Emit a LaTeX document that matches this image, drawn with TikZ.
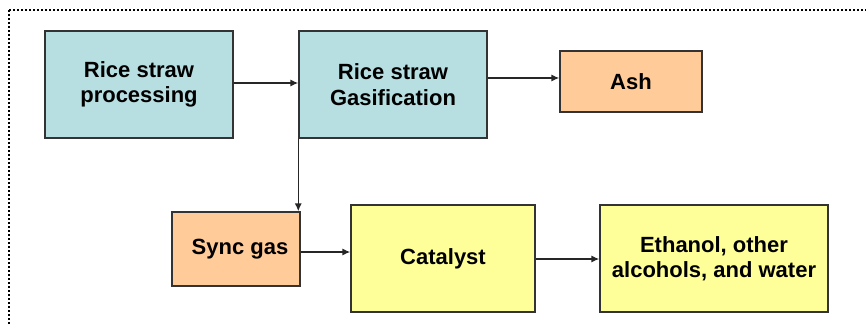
\documentclass[tikz,border=0pt]{standalone}
\usepackage{fontspec}
\setmainfont{Liberation Sans}
\usetikzlibrary{arrows.meta}
\definecolor{boxblue}{HTML}{B7DEE1}
\definecolor{boxorange}{HTML}{FFCC99}
\definecolor{boxyellow}{HTML}{FFFF99}
\begin{document}
\begin{tikzpicture}[x=0.75pt,y=-0.75pt,
           box_style/.style={rectangle,draw=black!80,line width=1.1pt,align=center,
              font=\fontsize{16.5}{19}\selectfont\bfseries,inner sep=0pt},
           box_blue/.style={box_style,fill=boxblue,minimum width=141pt,minimum height=80.25pt},
           box_orange/.style={box_style,fill=boxorange},
           box_yellow/.style={box_style,fill=boxyellow,minimum height=80.25pt},
           edge_style/.style={draw=black!85,line width=1.1pt,-{Latex[length=6pt,width=5.5pt]}}]
            \useasboundingbox (0,0) rectangle (866,324);
            \draw[line width=1.8pt,dash pattern=on 1.6pt off 1.4pt] (9,10) rectangle (880,340);
            \node[box_blue] (proc) at (139, 84.5)  {Rice straw\\processing};
            \node[box_blue] (gasif) at (393, 84.5)  {Rice straw\\Gasification};
            \node[box_orange,minimum width=106.5pt,minimum height=45.75pt] (ash) at (631, 81.5)  {Ash};
            \node[box_orange,minimum width=96pt,minimum height=55.5pt] (syngas) at (236, 249)  {\hspace*{6pt}Sync gas};
            \node[box_yellow,minimum width=138pt] (catalyst) at (443, 258.5)  {Catalyst};
            \node[box_yellow,minimum width=171pt] (ethanol) at (714, 258.5)  {Ethanol, other\\alcohols, and water};
            \draw[edge_style]  (proc.east |- 0,83) -- (gasif.west |- 0,83);
            \draw[edge_style]  (gasif.east |- 0,78) -- (ash.west |- 0,78);
            \draw[edge_style]  (gasif.south west) -- (gasif.south west |- syngas.north);
            \draw[edge_style]  (syngas.east |- 0,252) -- (catalyst.west |- 0,252);
            \draw[edge_style]  (catalyst.east |- 0,259) -- (ethanol.west |- 0,259);
        \end{tikzpicture}
\end{document}
